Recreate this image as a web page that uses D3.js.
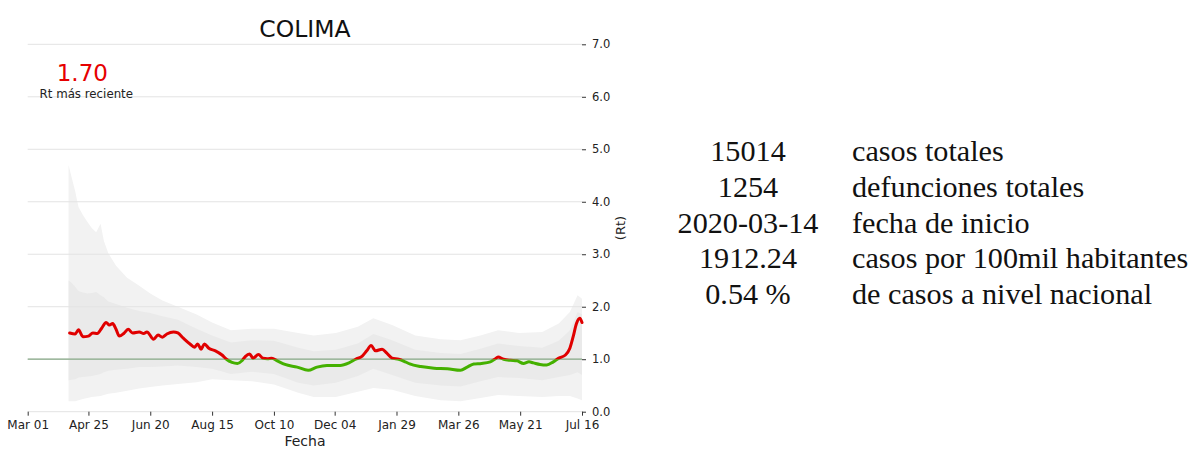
<!DOCTYPE html>
<html>
<head>
<meta charset="utf-8">
<script src="https://cdn.jsdelivr.net/npm/d3@7/dist/d3.min.js"></script>
<style>
  html, body { margin: 0; padding: 0; background: #fff; }
  svg { display: block; }
</style>
</head>
<body>
<svg id="chart" width="1200" height="458"></svg>
<script>
// ---------------- DATA ----------------
const rtDates = [
  "2020-04-08","2020-04-13","2020-04-16","2020-04-20","2020-04-25","2020-04-29","2020-05-03","2020-05-07",
  "2020-05-11","2020-05-14","2020-05-17","2020-05-20","2020-05-23","2020-05-27","2020-05-31","2020-06-04",
  "2020-06-10","2020-06-14","2020-06-17","2020-06-23","2020-06-27","2020-07-01","2020-07-05","2020-07-11",
  "2020-07-15","2020-07-20","2020-07-26","2020-07-30","2020-08-02","2020-08-05","2020-08-08","2020-08-12",
  "2020-08-18","2020-08-24","2020-08-28","2020-09-02","2020-09-07","2020-09-11","2020-09-14","2020-09-18",
  "2020-09-21","2020-09-26","2020-09-30","2020-10-04","2020-10-08","2020-10-13","2020-10-20","2020-10-31",
  "2020-11-10","2020-11-18","2020-11-27","2020-12-09","2020-12-17","2020-12-23","2020-12-29","2021-01-02",
  "2021-01-06","2021-01-10","2021-01-16","2021-01-20","2021-01-25","2021-01-31","2021-02-06","2021-02-10",
  "2021-02-20","2021-03-04","2021-03-16","2021-03-28","2021-04-03","2021-04-09","2021-04-16","2021-04-24",
  "2021-04-28","2021-05-01","2021-05-06","2021-05-12","2021-05-18","2021-05-24","2021-05-29","2021-06-02",
  "2021-06-08","2021-06-14","2021-06-20","2021-06-25","2021-07-01","2021-07-05","2021-07-08","2021-07-11",
  "2021-07-14","2021-07-16"
];
const rtValues = [
  1.50,1.48,1.56,1.43,1.44,1.50,1.49,1.59,
  1.70,1.65,1.68,1.57,1.44,1.49,1.57,1.50,
  1.52,1.49,1.52,1.38,1.46,1.42,1.48,1.52,
  1.50,1.40,1.29,1.23,1.29,1.19,1.29,1.21,
  1.16,1.08,1.00,0.94,0.92,0.97,1.05,1.10,
  1.02,1.09,1.02,1.01,1.02,0.97,0.90,0.85,
  0.79,0.85,0.88,0.88,0.93,1.00,1.06,1.16,
  1.26,1.16,1.19,1.12,1.02,1.00,0.95,0.91,
  0.86,0.83,0.82,0.79,0.85,0.91,0.92,0.95,
  1.00,1.04,1.00,0.98,0.97,0.92,0.95,0.93,
  0.90,0.89,0.95,1.02,1.08,1.21,1.43,1.68,
  1.78,1.70
];

const bandDates = [
  "2020-04-07","2020-04-10","2020-04-13","2020-04-16","2020-04-20","2020-04-24","2020-04-28","2020-05-02",
  "2020-05-06","2020-05-09","2020-05-13","2020-05-20",
  "2020-05-30","2020-06-10","2020-06-20","2020-07-01","2020-07-15","2020-08-01","2020-08-15","2020-09-01",
  "2020-09-20","2020-10-10","2020-11-01","2020-11-15","2020-12-05","2020-12-25","2021-01-08","2021-01-25",
  "2021-02-15","2021-03-10","2021-03-28","2021-04-15","2021-05-01","2021-05-20","2021-06-10","2021-06-25",
  "2021-07-05","2021-07-12","2021-07-16"
];
const outerHi = [4.70,4.45,4.20,3.90,3.75,3.62,3.50,3.42,3.58,3.25,3.02,2.78,
                 2.55,2.40,2.25,2.12,2.00,1.85,1.70,1.55,
                 1.58,1.58,1.50,1.45,1.50,1.62,1.78,1.65,1.45,1.38,1.36,1.45,1.55,1.50,1.52,1.68,
                 1.90,2.22,2.15];
const innerHi = [2.50,2.45,2.38,2.30,2.27,2.25,2.26,2.28,2.22,2.18,2.10,2.05,
                 1.98,1.92,1.88,1.82,1.75,1.58,1.45,1.32,
                 1.36,1.35,1.22,1.15,1.18,1.30,1.48,1.36,1.18,1.12,1.10,1.20,1.30,1.25,1.22,1.35,
                 1.55,1.90,1.85];
const innerLo = [0.60,0.61,0.62,0.65,0.66,0.67,0.68,0.70,0.72,0.75,0.78,0.80,
                 0.82,0.85,0.85,0.86,0.88,0.85,0.82,0.72,
                 0.76,0.72,0.55,0.50,0.55,0.68,0.82,0.70,0.55,0.50,0.48,0.58,0.66,0.64,0.60,0.66,
                 0.70,0.75,0.70];
const outerLo = [0.20,0.20,0.20,0.22,0.24,0.26,0.28,0.29,0.30,0.32,0.34,0.36,
                 0.40,0.44,0.47,0.50,0.53,0.56,0.62,0.60,
                 0.58,0.52,0.36,0.28,0.28,0.38,0.45,0.42,0.30,0.22,0.20,0.26,0.32,0.30,0.28,0.30,
                 0.30,0.25,0.22];

const xTickDates  = ["2020-03-01","2020-04-25","2020-06-20","2020-08-15","2020-10-10","2020-12-04",
                     "2021-01-29","2021-03-26","2021-05-21","2021-07-16"];
const xTickLabels = ["Mar 01","Apr 25","Jun 20","Aug 15","Oct 10","Dec 04","Jan 29","Mar 26","May 21","Jul 16"];
const yTicks = [0,1,2,3,4,5,6,7];

const titleText = "COLIMA";
const latestRt = "1.70";
const statValues = ["15014","1254","2020-03-14","1912.24","0.54 %"];
const statLabels = ["casos totales","defunciones totales","fecha de inicio","casos por 100mil habitantes","de casos a nivel nacional"];

// ---------------- CHART ----------------
(function () {
const parse = d3.timeParse("%Y-%m-%d");
const svg = d3.select("#chart");
const pL = 27.7, pR = 582, pT = 44.3, pB = 411.7;

const x = d3.scaleTime()
  .domain([parse("2020-03-01"), parse("2021-07-16")])
  .range([pL, pR]);
const y = d3.scaleLinear().domain([0, 7]).range([pB, pT]);

const band = bandDates.map((d, i) => ({
  date: parse(d), oh: outerHi[i], ih: innerHi[i], il: innerLo[i], ol: outerLo[i]
}));
const series = rtDates.map((d, i) => ({ date: parse(d), v: rtValues[i] }));

// bands
svg.append("path").datum(band)
  .attr("fill", "#f2f2f2")
  .attr("d", d3.area().x(d => x(d.date)).y0(d => y(d.ol)).y1(d => y(d.oh)));
svg.append("path").datum(band)
  .attr("fill", "#eaeaea")
  .attr("d", d3.area().x(d => x(d.date)).y0(d => y(d.il)).y1(d => y(d.ih)));

// gridlines
svg.append("g").selectAll("line").data(yTicks).join("line")
  .attr("x1", pL).attr("x2", pR)
  .attr("y1", d => y(d)).attr("y2", d => y(d))
  .attr("stroke", "#e3e3e3").attr("stroke-width", 1);

// reference line at 1.0
svg.append("line")
  .attr("x1", pL).attr("x2", pR)
  .attr("y1", y(1)).attr("y2", y(1))
  .attr("stroke", "#86a886").attr("stroke-width", 1.2);

// clip paths for red/green
const defs = svg.append("defs");
defs.append("clipPath").attr("id", "above")
  .append("rect").attr("x", 0).attr("y", 0).attr("width", 1200).attr("height", y(1));
defs.append("clipPath").attr("id", "below")
  .append("rect").attr("x", 0).attr("y", y(1)).attr("width", 1200).attr("height", 458 - y(1));

const line = d3.line().x(d => x(d.date)).y(d => y(d.v)).curve(d3.curveMonotoneX);
svg.append("path").datum(series)
  .attr("clip-path", "url(#below)")
  .attr("fill", "none").attr("stroke", "#44b000").attr("stroke-width", 3)
  .attr("stroke-linejoin", "round").attr("stroke-linecap", "round")
  .attr("d", line);
svg.append("path").datum(series)
  .attr("clip-path", "url(#above)")
  .attr("fill", "none").attr("stroke", "#e00000").attr("stroke-width", 3)
  .attr("stroke-linejoin", "round").attr("stroke-linecap", "round")
  .attr("d", line);

// axes
const yAxis = d3.axisRight(y).tickValues(yTicks).tickFormat(d3.format(".1f"))
  .tickSize(4).tickPadding(6);
const gy = svg.append("g").attr("transform", `translate(${pR},0)`).call(yAxis);
gy.select(".domain").remove();
gy.selectAll("text").attr("font-family", "DejaVu Sans").attr("font-size", 11.5).attr("fill", "#222");
gy.selectAll("line").attr("stroke", "#333");

const xAxis = d3.axisBottom(x).tickValues(xTickDates.map(parse))
  .tickFormat((d, i) => xTickLabels[i]).tickSize(4).tickPadding(5);
const gx = svg.append("g").attr("transform", `translate(0,${pB})`).call(xAxis);
gx.select(".domain").remove();
gx.selectAll("text").attr("font-family", "DejaVu Sans").attr("font-size", 12).attr("fill", "#222");
gx.selectAll("line").attr("stroke", "#333");

// labels
svg.append("text").attr("x", 305).attr("y", 446)
  .attr("text-anchor", "middle").attr("font-family", "DejaVu Sans").attr("font-size", 14)
  .attr("fill", "#222").text("Fecha");
svg.append("text")
  .attr("transform", `translate(625,${(pT + pB) / 2}) rotate(-90)`)
  .attr("text-anchor", "middle").attr("font-family", "DejaVu Sans").attr("font-size", 13)
  .attr("fill", "#222").text("(Rt)");

svg.append("text").attr("x", 305).attr("y", 37)
  .attr("text-anchor", "middle").attr("font-family", "DejaVu Sans").attr("font-size", 23.5)
  .attr("fill", "#111").text(titleText);

svg.append("text").attr("x", 82.3).attr("y", 81)
  .attr("text-anchor", "middle").attr("font-family", "DejaVu Sans").attr("font-size", 23)
  .attr("fill", "#e60000").text(latestRt);
svg.append("text").attr("x", 86.3).attr("y", 97.5)
  .attr("text-anchor", "middle").attr("font-family", "DejaVu Sans").attr("font-size", 11.8)
  .attr("fill", "#222").text("Rt más reciente");

// stats block
const rowY = d3.scalePoint().domain(d3.range(statValues.length)).range([161, 304]);
const stats = svg.append("g").attr("font-family", "Liberation Serif").attr("font-size", 30.2).attr("fill", "#111");
stats.selectAll("text.val").data(statValues).join("text").attr("class", "val")
  .attr("x", 748).attr("y", (d, i) => rowY(i)).attr("text-anchor", "middle").text(d => d);
stats.selectAll("text.lab").data(statLabels).join("text").attr("class", "lab")
  .attr("x", 852).attr("y", (d, i) => rowY(i)).attr("text-anchor", "start").text(d => d);
})();
</script>
</body>
</html>
